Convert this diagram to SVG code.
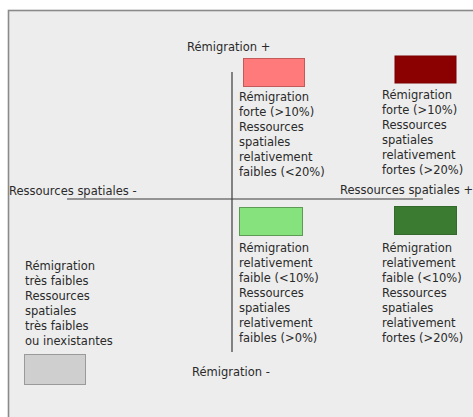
<svg xmlns="http://www.w3.org/2000/svg" width="473" height="417" viewBox="0 0 473 417">
<style>
text{font-family:"DejaVu Sans","Verdana",sans-serif;font-size:11.5px;fill:#2a2a2a}
.axis{stroke:#3a3a3a;stroke-width:1.2;fill:none}
.sw{stroke-width:1}
</style>
<rect x="0" y="0" width="473" height="417" fill="#ffffff"/>
<rect x="8.5" y="10.5" width="480" height="420" fill="#ededed" stroke="#8a8a8a" stroke-width="1.6"/>
<g id="connectors">
<line class="axis" x1="232" y1="72" x2="232" y2="352"/>
<line class="axis" x1="67" y1="199" x2="423" y2="199"/>
</g>
<g id="axis-remigration-plus"><text x="187" y="51">Rémigration +</text></g>
<g id="axis-remigration-minus"><text x="192" y="376">Rémigration -</text></g>
<g id="axis-ressources-minus"><text x="9" y="195">Ressources spatiales -</text></g>
<g id="axis-ressources-plus"><text x="340" y="194">Ressources spatiales +</text></g>
<g id="q-top-left">
<rect class="sw" x="243.5" y="58.5" width="61" height="28" fill="#ff7a7a" stroke="#c25a5a"/>
<text x="239" y="101">Rémigration</text>
<text x="239" y="116">forte (&gt;10%)</text>
<text x="239" y="131">Ressources</text>
<text x="239" y="146">spatiales</text>
<text x="239" y="161">relativement</text>
<text x="239" y="176">faibles (&lt;20%)</text>
</g>
<g id="q-top-right">
<rect class="sw" x="395" y="56" width="61" height="27" fill="#8b0000" stroke="#7a0000"/>
<text x="382" y="99">Rémigration</text>
<text x="382" y="114">forte (&gt;10%)</text>
<text x="382" y="129">Ressources</text>
<text x="382" y="144">spatiales</text>
<text x="382" y="159">relativement</text>
<text x="382" y="174">fortes (&gt;20%)</text>
</g>
<g id="q-bottom-left">
<rect class="sw" x="239.5" y="207.5" width="63" height="28" fill="#86e27c" stroke="#5c9a56"/>
<text x="239" y="252">Rémigration</text>
<text x="239" y="267">relativement</text>
<text x="239" y="282">faible (&lt;10%)</text>
<text x="239" y="297">Ressources</text>
<text x="239" y="312">spatiales</text>
<text x="239" y="327">relativement</text>
<text x="239" y="342">faibles (&gt;0%)</text>
</g>
<g id="q-bottom-right">
<rect class="sw" x="394.5" y="206.5" width="62" height="28" fill="#3b7a31" stroke="#336a2b"/>
<text x="382" y="252">Rémigration</text>
<text x="382" y="267">relativement</text>
<text x="382" y="282">faible (&lt;10%)</text>
<text x="382" y="297">Ressources</text>
<text x="382" y="312">spatiales</text>
<text x="382" y="327">relativement</text>
<text x="382" y="342">fortes (&gt;20%)</text>
</g>
<g id="legend-none">
<text x="25" y="270">Rémigration</text>
<text x="25" y="285">très faibles</text>
<text x="25" y="300">Ressources</text>
<text x="25" y="315">spatiales</text>
<text x="25" y="330">très faibles</text>
<text x="25" y="345">ou inexistantes</text>
<rect class="sw" x="24.5" y="354.5" width="61" height="30" fill="#cfcfcf" stroke="#9a9a9a"/>
</g>
</svg>
